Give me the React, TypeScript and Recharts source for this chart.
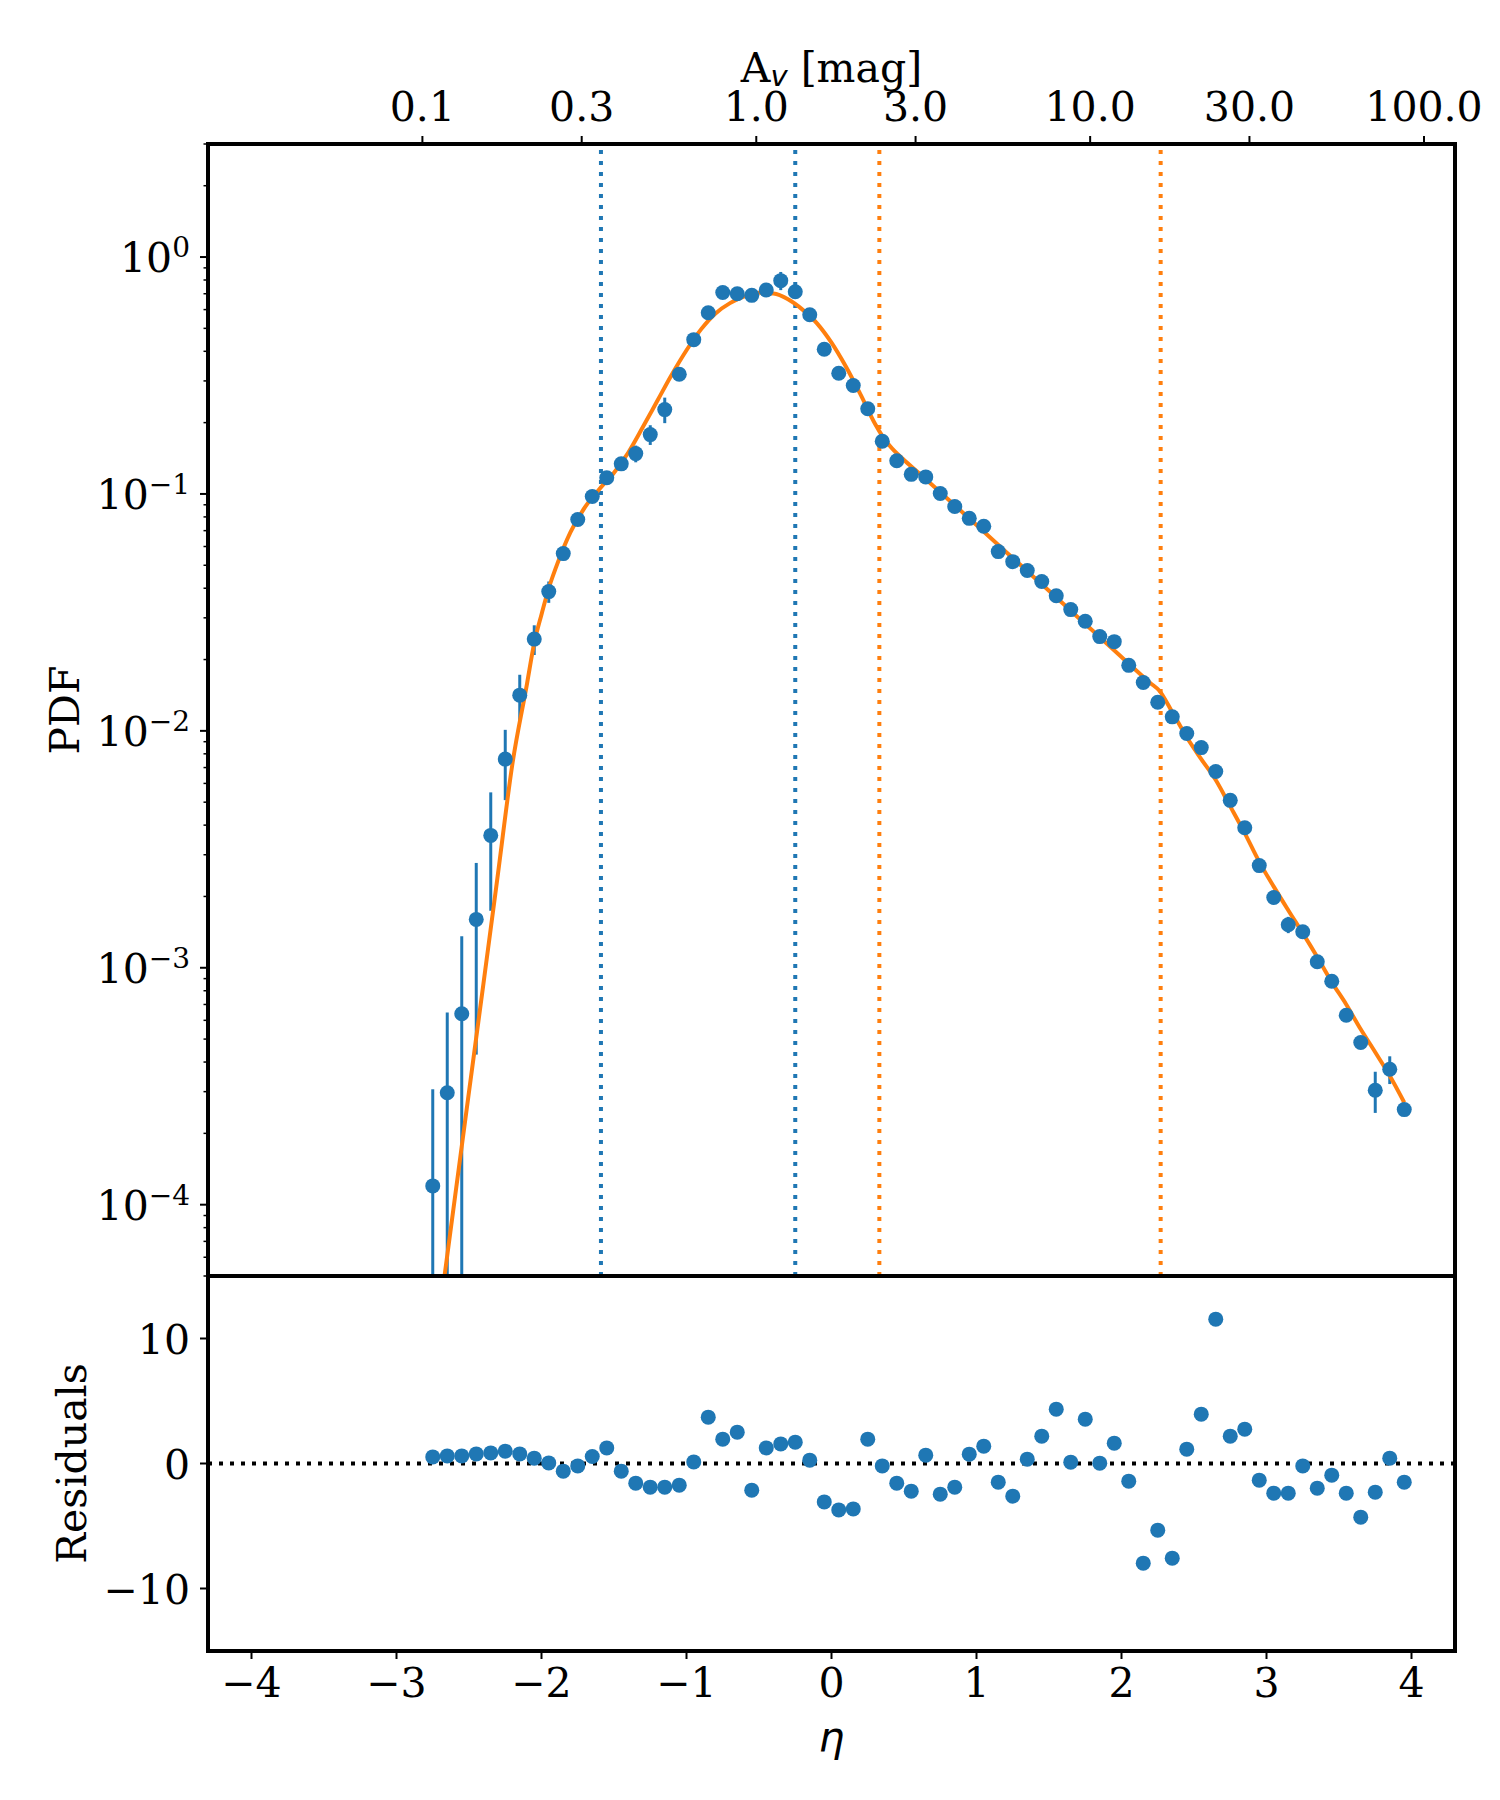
import React from 'react'
import {
  ComposedChart,
  Line,
  Scatter,
  ErrorBar,
  XAxis,
  YAxis,
  ReferenceLine,
  Label,
} from 'recharts'

const FONT = '"DejaVu Serif", serif'
const MATH = '"DejaVu Sans", sans-serif'
const BLUE = '#1f77b4'
const ORANGE = '#ff7f0e'

// binned column-density PDF (eta = ln(Av / <Av>))
const etaBins = [
  -2.75, -2.65, -2.55, -2.45, -2.35, -2.25, -2.15, -2.05, -1.95, -1.85,
  -1.75, -1.65, -1.55, -1.45, -1.35, -1.25, -1.15, -1.05, -0.95, -0.85,
  -0.75, -0.65, -0.55, -0.45, -0.35, -0.25, -0.15, -0.05, 0.05, 0.15,
  0.25, 0.35, 0.45, 0.55, 0.65, 0.75, 0.85, 0.95, 1.05, 1.15,
  1.25, 1.35, 1.45, 1.55, 1.65, 1.75, 1.85, 1.95, 2.05, 2.15,
  2.25, 2.35, 2.45, 2.55, 2.65, 2.75, 2.85, 2.95, 3.05, 3.15,
  3.25, 3.35, 3.45, 3.55, 3.65, 3.75, 3.85, 3.95,
]

const pdfValues = [
  1.2e-4, 2.97e-4, 6.4e-4, 1.6e-3, 3.62e-3, 7.6e-3, 0.01415, 0.0244, 0.0387, 0.056,
  0.078, 0.0975, 0.117, 0.134, 0.148, 0.178, 0.227, 0.32, 0.448, 0.582,
  0.708, 0.7, 0.689, 0.726, 0.795, 0.714, 0.571, 0.408, 0.323, 0.287,
  0.229, 0.167, 0.138, 0.121, 0.118, 0.1004, 0.0885, 0.0789, 0.0731, 0.0571,
  0.0518, 0.0475, 0.0427, 0.0372, 0.0325, 0.029, 0.025, 0.0238, 0.0189, 0.016,
  0.0132, 0.01146, 0.00975, 0.0085, 0.00674, 0.00509, 0.0039, 0.0027, 0.00198, 0.00152,
  0.00142, 0.00106, 0.000877, 0.00063, 0.000484, 0.000304, 0.000373, 0.000252,
]

const pdfErrors = [
  1.87e-4, 3.5e-4, 7.2e-4, 1.17e-3, 1.88e-3, 2.5e-3, 3.1e-3, 3.5e-3, 4e-3, 3.5e-3,
  3e-3, 4e-3, 4e-3, 6e-3, 0.012, 0.017, 0.028, 0.02, 0.02, 0.02,
  0.02, 0.02, 0.02, 0.02, 0.07, 0.03, 0.015, 0.01, 8e-3, 7e-3,
  6e-3, 4e-3, 3e-3, 3e-3, 3e-3, 2.5e-3, 2e-3, 2e-3, 2e-3, 1.5e-3,
  1.3e-3, 1.2e-3, 1e-3, 9e-4, 8e-4, 7e-4, 6e-4, 6e-4, 5e-4, 4e-4,
  3e-4, 3e-4, 2.5e-4, 2.2e-4, 1.8e-4, 1.4e-4, 1.1e-4, 9e-5, 7e-5, 1.2e-4,
  5e-5, 4e-5, 3.5e-5, 3e-5, 2.5e-5, 6e-5, 5e-5, 1.5e-5,
]

const residualValues = [
  0.53, 0.61, 0.61, 0.77, 0.85, 0.99, 0.77, 0.43, 0.05, -0.61,
  -0.19, 0.56, 1.25, -0.61, -1.57, -1.89, -1.89, -1.73, 0.13, 3.71,
  1.95, 2.51, -2.13, 1.25, 1.57, 1.71, 0.27, -3.07, -3.71, -3.63,
  1.95, -0.19, -1.57, -2.21, 0.67, -2.45, -1.89, 0.75, 1.39, -1.49,
  -2.61, 0.35, 2.19, 4.35, 0.11, 3.55, 0.03, 1.63, -1.41, -7.97,
  -5.33, -7.57, 1.15, 3.95, 11.55, 2.19, 2.75, -1.33, -2.37, -2.37,
  -0.19, -1.97, -0.93, -2.37, -4.29, -2.29, 0.43, -1.49,
]

// fitted model curve
const fitEta = [
  -2.72, -2.6, -2.5, -2.4, -2.3, -2.2, -2.1, -2.05, -2.0, -1.95, -1.9, -1.8, -1.7, -1.6,
  -1.5, -1.4, -1.3, -1.2, -1.1, -1.0, -0.9, -0.8, -0.7, -0.6, -0.5, -0.4, -0.3,
  -0.2, -0.1, 0.0, 0.1, 0.2, 0.3, 0.35, 0.4, 0.5, 0.6, 0.8, 1.0, 1.2, 1.4, 1.6,
  1.8, 2.0, 2.2, 2.26, 2.35, 2.45, 2.55, 2.65, 2.75, 2.85, 2.95, 3.05, 3.15,
  3.25, 3.35, 3.45, 3.55, 3.65, 3.75, 3.85, 3.95,
]
const fitPdf = [
  2.9e-5, 1.04e-4, 3.0e-4, 8.6e-4, 2.5e-3, 7.3e-3, 0.0158, 0.0235, 0.031, 0.04, 0.049, 0.069, 0.088, 0.105,
  0.123, 0.15, 0.192, 0.248, 0.32, 0.404, 0.495, 0.578, 0.639, 0.682, 0.706, 0.701, 0.663,
  0.6, 0.525, 0.435, 0.344, 0.263, 0.198, 0.176, 0.16, 0.139, 0.123, 0.0955, 0.0739, 0.0572, 0.0443, 0.0343,
  0.0265, 0.0205, 0.0159, 0.0148, 0.012, 0.0094, 0.0076, 0.0062, 0.0048, 0.0037, 0.0028, 0.0022, 0.00175,
  0.0014, 0.00111, 0.00087, 0.0007, 0.00055, 0.00044, 0.00035, 0.00027,
]

const blueCuts = [-1.59, -0.25]
const orangeCuts = [0.33, 2.27]

const AV_MEAN = 1.68
const avTicks = [0.1, 0.3, 1, 3, 10, 30, 100]
const avTickLabels = ['0.1', '0.3', '1.0', '3.0', '10.0', '30.0', '100.0']
const etaTicks = [-4, -3, -2, -1, 0, 1, 2, 3, 4]
const residualTicks = [-10, 0, 10]

const ETA_DOMAIN: [number, number] = [-4.3, 4.3]
const PDF_DOMAIN: [number, number] = [5e-5, 3]
const RES_DOMAIN: [number, number] = [-15, 15]

const points = etaBins.map((eta, i) => ({
  eta,
  pdf: pdfValues[i],
  err: [Math.min(pdfErrors[i], pdfValues[i] - PDF_DOMAIN[0]), pdfErrors[i]],
}))
const fitCurve = fitEta.map((eta, i) => ({ eta, pdf: fitPdf[i] }))
const residuals = etaBins.map((eta, i) => ({ eta, res: residualValues[i] }))

const topTickPositions = avTicks.map((a) => Math.log(a / AV_MEAN))

const logTicks: number[] = []
for (let e = -5; e <= 0; e++) {
  for (let m = 1; m <= 9; m++) {
    const v = m * Math.pow(10, e)
    if (v >= PDF_DOMAIN[0] && v <= PDF_DOMAIN[1]) logTicks.push(v)
  }
}

const minus = (s: string) => s.replace('-', '\u2212')

const LogTick = (props: any) => {
  const { x, y, payload } = props
  const lg = Math.log10(payload.value)
  const exp = Math.round(lg)
  const major = Math.abs(lg - exp) < 1e-6
  return (
    <g>
      <line x1={x - (major ? 8 : 4.5)} x2={x} y1={y} y2={y} stroke="#000" strokeWidth={major ? 2 : 1.5} />
      {major && (
        <text x={x - 18} y={y + 15} textAnchor="end" fontFamily={FONT} fontSize={41} fill="#000">
          10
          <tspan dy={-15} fontSize={28}>
            {minus(String(exp))}
          </tspan>
        </text>
      )}
    </g>
  )
}

const TopTick = (props: any) => {
  const { x, y, index } = props
  return (
    <g>
      <line x1={x} x2={x} y1={y} y2={y - 8} stroke="#000" strokeWidth={2} />
      <text x={x} y={y - 23} textAnchor="middle" fontFamily={FONT} fontSize={41} fill="#000">
        {avTickLabels[index]}
      </text>
    </g>
  )
}

const BottomTick = (props: any) => {
  const { x, y, payload } = props
  return (
    <g>
      <line x1={x} x2={x} y1={y} y2={y + 8} stroke="#000" strokeWidth={2} />
      <text x={x} y={y + 46} textAnchor="middle" fontFamily={FONT} fontSize={41} fill="#000">
        {minus(String(payload.value))}
      </text>
    </g>
  )
}

const ResTick = (props: any) => {
  const { x, y, payload } = props
  return (
    <g>
      <line x1={x - 8} x2={x} y1={y} y2={y} stroke="#000" strokeWidth={2} />
      <text x={x - 18} y={y + 15} textAnchor="end" fontFamily={FONT} fontSize={41} fill="#000">
        {minus(String(payload.value))}
      </text>
    </g>
  )
}

const frame = { stroke: '#000', strokeWidth: 4, strokeLinecap: 'square' as const, ifOverflow: 'visible' as const }
const dotted = { strokeWidth: 4, strokeDasharray: '4 7', ifOverflow: 'visible' as const }

export default function App() {
  return (
    <div style={{ position: 'absolute', left: 0, top: 0, width: 1500, height: 1800, background: '#fff' }}>
      <div style={{ position: 'absolute', left: 0, top: 0 }}>
        <ComposedChart width={1500} height={1290} margin={{ top: 44, right: 45, bottom: 14, left: 58 }}>
          <XAxis
            xAxisId="bottom"
            type="number"
            dataKey="eta"
            domain={ETA_DOMAIN}
            allowDataOverflow
            hide
          />
          <XAxis
            xAxisId="top"
            orientation="top"
            type="number"
            dataKey="eta"
            domain={ETA_DOMAIN}
            allowDataOverflow
            ticks={topTickPositions}
            interval={0}
            height={100}
            tickSize={0}
            tickMargin={0}
            tickLine={false}
            axisLine={false}
            tick={<TopTick />}
          >
            <Label
              content={(p: any) => (
                <text x={p.viewBox.x + p.viewBox.width / 2} y={82} textAnchor="middle" fontFamily={FONT} fontSize={41}>
                  A
                  <tspan fontFamily={MATH} fontStyle="italic" fontSize={29} dy={4}>
                    v
                  </tspan>
                  <tspan dy={-4}> [mag]</tspan>
                </text>
              )}
            />
          </XAxis>
          <YAxis
            type="number"
            scale="log"
            domain={PDF_DOMAIN}
            allowDataOverflow
            ticks={logTicks}
            interval={0}
            width={150}
            tickSize={0}
            tickMargin={0}
            tickLine={false}
            axisLine={false}
            tick={<LogTick />}
          >
            <Label
              content={(p: any) => {
                const cy = p.viewBox.y + p.viewBox.height / 2
                return (
                  <text x={79} y={cy} transform={`rotate(-90, 79, ${cy})`} textAnchor="middle" fontFamily={FONT} fontSize={41}>
                    PDF
                  </text>
                )
              }}
            />
          </YAxis>

          {blueCuts.map((v) => (
            <ReferenceLine key={'b' + v} xAxisId="bottom" x={v} stroke={BLUE} {...dotted} />
          ))}
          {orangeCuts.map((v) => (
            <ReferenceLine key={'o' + v} xAxisId="bottom" x={v} stroke={ORANGE} {...dotted} />
          ))}

          <Scatter
            xAxisId="bottom"
            data={points}
            dataKey="pdf"
            shape={() => <g />}
            isAnimationActive={false}
          >
            <ErrorBar dataKey="err" direction="y" width={0} stroke={BLUE} strokeWidth={3} isAnimationActive={false} />
          </Scatter>
          <Line
            xAxisId="bottom"
            data={fitCurve}
            dataKey="pdf"
            type="monotone"
            stroke={ORANGE}
            strokeWidth={4}
            dot={false}
            activeDot={false}
            isAnimationActive={false}
          />
          <Scatter
            xAxisId="bottom"
            data={points}
            dataKey="pdf"
            shape={(p: any) => <circle cx={p.cx} cy={p.cy} r={7.5} fill={BLUE} />}
            isAnimationActive={false}
          />

          <ReferenceLine xAxisId="bottom" x={ETA_DOMAIN[0]} {...frame} />
          <ReferenceLine xAxisId="bottom" x={ETA_DOMAIN[1]} {...frame} />
          <ReferenceLine xAxisId="bottom" y={PDF_DOMAIN[1]} {...frame} />
          <ReferenceLine xAxisId="bottom" y={PDF_DOMAIN[0]} {...frame} />
        </ComposedChart>
      </div>

      <div style={{ position: 'absolute', left: 0, top: 1262 }}>
        <ComposedChart width={1500} height={538} margin={{ top: 14, right: 45, bottom: 0, left: 58 }}>
          <XAxis
            type="number"
            dataKey="eta"
            domain={ETA_DOMAIN}
            allowDataOverflow
            ticks={etaTicks}
            interval={0}
            height={149}
            tickSize={0}
            tickMargin={0}
            tickLine={false}
            axisLine={false}
            tick={<BottomTick />}
          >
            <Label
              content={(p: any) => (
                <text
                  x={p.viewBox.x + p.viewBox.width / 2}
                  y={489}
                  textAnchor="middle"
                  fontFamily={MATH}
                  fontStyle="italic"
                  fontSize={41}
                >
                  η
                </text>
              )}
            />
          </XAxis>
          <YAxis
            type="number"
            domain={RES_DOMAIN}
            allowDataOverflow
            ticks={residualTicks}
            interval={0}
            width={150}
            tickSize={0}
            tickMargin={0}
            tickLine={false}
            axisLine={false}
            tick={<ResTick />}
          >
            <Label
              content={(p: any) => {
                const cy = p.viewBox.y + p.viewBox.height / 2
                return (
                  <text x={86} y={cy} transform={`rotate(-90, 86, ${cy})`} textAnchor="middle" fontFamily={FONT} fontSize={41}>
                    Residuals
                  </text>
                )
              }}
            />
          </YAxis>

          <ReferenceLine y={0} stroke="#000" strokeWidth={4} strokeDasharray="4 7" />
          <Scatter
            data={residuals}
            dataKey="res"
            shape={(p: any) => <circle cx={p.cx} cy={p.cy} r={7.5} fill={BLUE} />}
            isAnimationActive={false}
          />

          <ReferenceLine x={ETA_DOMAIN[0]} {...frame} />
          <ReferenceLine x={ETA_DOMAIN[1]} {...frame} />
          <ReferenceLine y={RES_DOMAIN[1]} {...frame} />
          <ReferenceLine y={RES_DOMAIN[0]} {...frame} />
        </ComposedChart>
      </div>
    </div>
  )
}
